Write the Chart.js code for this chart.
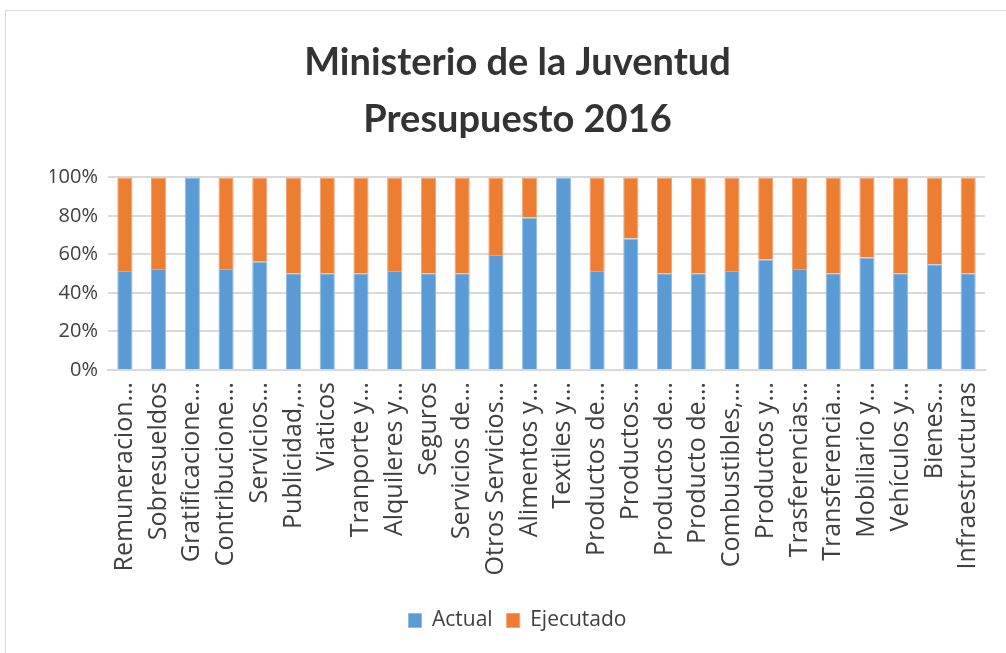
<!DOCTYPE html>
<html>
<head>
<meta charset="utf-8">
<script src="https://cdn.jsdelivr.net/npm/chart.js@4"></script>
<style>
  html, body { margin: 0; padding: 0; background: #fff; }
  #frame { position: absolute; left: 5px; top: 10px; width: 1010px; height: 650px; border: 1px solid #d9d9d9; }
  #wrap { position: absolute; left: 0; top: 0; width: 1006px; height: 653px; }
</style>
</head>
<body>
<div id="frame"></div>
<div id="wrap"><canvas id="chartContainer"></canvas></div>
<script>
// categories (truncated like in the original)
const categories = [
  "Remuneracion…", "Sobresueldos", "Gratificacione…", "Contribucione…", "Servicios…",
  "Publicidad,…", "Viaticos", "Tranporte y…", "Alquileres y…", "Seguros",
  "Servicios de…", "Otros Servicios…", "Alimentos y…", "Textiles y…", "Productos de…",
  "Productos…", "Productos de…", "Producto de…", "Combustibles,…", "Productos y…",
  "Trasferencias…", "Transferencia…", "Mobiliario y…", "Vehículos y…", "Bienes…",
  "Infraestructuras"
];

// share in percent
const actual = [51.4, 52.4, 100, 52.4, 56.2, 50.2, 50.2, 50.2, 51.4, 50.2,
  50.2, 59.7, 79.2, 100, 51.4, 68.3, 50.2, 50.2, 51.4, 57.4,
  52.4, 50.2, 58.5, 50.2, 54.9, 50.2];
const ejecutado = actual.map(v => 100 - v);

const yTicks = [0, 20, 40, 60, 80, 100];

const chartCanvas = document.getElementById("chartContainer");
const chart = new Chart(chartCanvas, {
  type: "bar",
  data: {
    labels: categories,
    datasets: [{
      label: "Actual",
      data: actual,
      backgroundColor: "#5B9BD5",
      borderColor: "#8fbbe6",
      borderWidth: 1,
      categoryPercentage: 1,
      barPercentage: 0.45
    }, {
      label: "Ejecutado",
      data: ejecutado,
      backgroundColor: "#ED7D31",
      borderColor: "#f3a270",
      borderWidth: 1,
      categoryPercentage: 1,
      barPercentage: 0.45
    }]
  },
  options: {
    responsive: true,
    maintainAspectRatio: false,
    animation: false,
    layout: { padding: { left: 50, right: 21, top: 0, bottom: 12 } },
    scales: {
      x: {
        stacked: true,
        grid: { display: false },
        border: { color: "#d9d9d9", width: 2 },
        ticks: {
          color: "#404040",
          font: { family: "'Open Sans', sans-serif", size: 25 },
          minRotation: 90,
          maxRotation: 90,
          autoSkip: false,
          padding: 4
        },
        afterFit: s => { s.height = 226; }
      },
      y: {
        stacked: true,
        min: 0,
        max: 100,
        afterBuildTicks: s => { s.ticks = yTicks.map(v => ({ value: v })); },
        grid: { color: "#d9d9d9", lineWidth: 2, drawTicks: false },
        border: { display: false },
        ticks: {
          color: "#404040",
          font: { family: "'Open Sans', sans-serif", size: 20 },
          padding: 10,
          callback: v => v + "%"
        },
        afterFit: s => { s.width = 58; }
      }
    },
    plugins: {
      title: {
        display: true,
        text: ["Ministerio de la Juventud", "Presupuesto 2016"],
        color: "#333333",
        font: { family: "Lato, sans-serif", size: 38, weight: "bold", lineHeight: 1.48 },
        padding: { top: 35, bottom: 30 }
      },
      legend: {
        position: "bottom",
        labels: {
          color: "#404040",
          font: { family: "'Open Sans', sans-serif", size: 21 },
          boxWidth: 13,
          boxHeight: 14,
          padding: 14
        }
      },
      tooltip: { enabled: false }
    }
  }
});
</script>
</body>
</html>
